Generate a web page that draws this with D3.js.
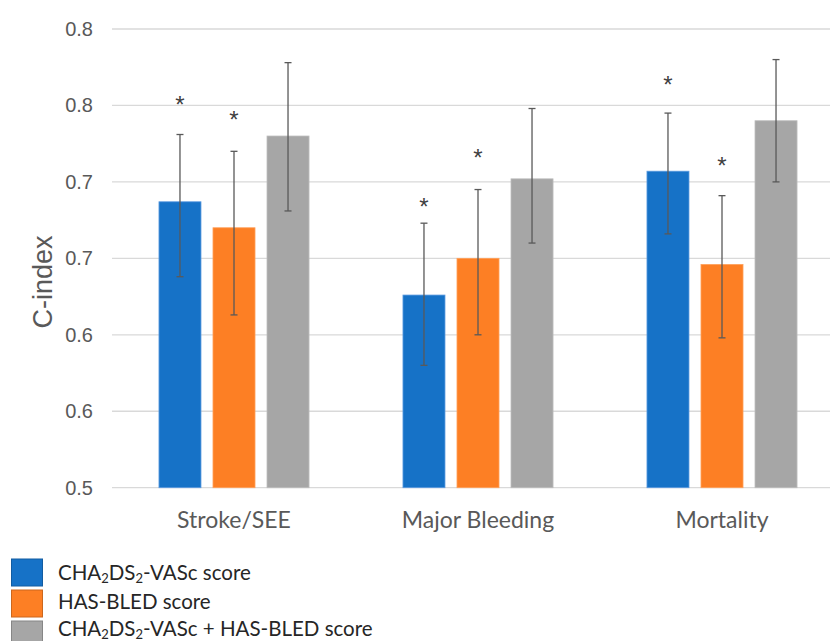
<!DOCTYPE html>
<html>
<head>
<meta charset="utf-8">
<script src="https://cdn.jsdelivr.net/npm/d3@7"></script>
<style>
  html, body { margin: 0; padding: 0; background: #fff; }
  svg { display: block; }
</style>
</head>
<body>
<svg id="chart" width="830" height="641"></svg>
<script>
const CATEGORIES = ['Stroke/SEE', 'Major Bleeding', 'Mortality'];
const SERIES = ['vasc', 'hasbled', 'combined'];

// C-index per category, one array per series
const VASC_VALUES = [0.687, 0.626, 0.707];
const HASBLED_VALUES = [0.670, 0.650, 0.646];
const COMBINED_VALUES = [0.730, 0.702, 0.740];

// error bar bounds
const VASC_LOW = [0.638, 0.580, 0.666];
const VASC_HIGH = [0.731, 0.673, 0.745];
const HASBLED_LOW = [0.613, 0.600, 0.598];
const HASBLED_HIGH = [0.720, 0.695, 0.691];
const COMBINED_LOW = [0.681, 0.660, 0.700];
const COMBINED_HIGH = [0.778, 0.748, 0.780];

// where the asterisks sit (C-index units), null = no asterisk
const VASC_STARS = [0.753, 0.686, 0.766];
const HASBLED_STARS = [0.743, 0.718, 0.713];
const COMBINED_STARS = [null, null, null];

const TICK_VALUES = [0.5, 0.55, 0.6, 0.65, 0.7, 0.75, 0.8];
const TICK_LABELS = ['0.5', '0.6', '0.6', '0.7', '0.7', '0.8', '0.8'];

const COLORS = { vasc: '#1672C7', hasbled: '#FD7F24', combined: '#A6A6A6' };
const STROKES = { vasc: '#5d9be0', hasbled: '#ffa05a', combined: '#bdbdbd' };

const SERIES_DATA = {
  vasc: { values: VASC_VALUES, low: VASC_LOW, high: VASC_HIGH, stars: VASC_STARS },
  hasbled: { values: HASBLED_VALUES, low: HASBLED_LOW, high: HASBLED_HIGH, stars: HASBLED_STARS },
  combined: { values: COMBINED_VALUES, low: COMBINED_LOW, high: COMBINED_HIGH, stars: COMBINED_STARS }
};

function drawChart() {
  const svg = d3.select('#chart');
  const left = 112;
  const right = 844;
  const top = 29;
  const bottom = 487.7;

  const y = d3.scaleLinear().domain([0.5, 0.8]).range([bottom, top]);
  const x0 = d3.scaleBand().domain(CATEGORIES).range([left, right]).paddingInner(0.385).paddingOuter(0.1925);
  const x1 = d3.scaleBand().domain(SERIES).range([0, x0.bandwidth()]).paddingInner(0.2222);

  // gridlines
  svg.append('g')
    .selectAll('line')
    .data(TICK_VALUES)
    .enter()
    .append('line')
    .attr('x1', left)
    .attr('x2', right)
    .attr('y1', d => y(d))
    .attr('y2', d => y(d))
    .attr('stroke', '#d9d9d9')
    .attr('stroke-width', 1.3);

  // y axis labels
  const yAxis = d3.axisLeft(y)
    .tickValues(TICK_VALUES)
    .tickFormat((d, i) => TICK_LABELS[i])
    .tickSize(0)
    .tickPadding(19);

  const yg = svg.append('g').attr('transform', `translate(${left},0)`).call(yAxis);
  yg.select('.domain').remove();
  yg.selectAll('text')
    .attr('fill', '#595959')
    .attr('font-family', 'Liberation Sans, Arial, sans-serif')
    .attr('font-size', 20);

  svg.append('text')
    .attr('transform', 'translate(52,282) rotate(-90)')
    .attr('text-anchor', 'middle')
    .attr('fill', '#595959')
    .attr('font-family', 'Liberation Sans, Arial, sans-serif')
    .attr('font-size', 27)
    .text('C-index');

  const rows = [];
  CATEGORIES.forEach((cat, i) => {
    SERIES.forEach(s => {
      const sd = SERIES_DATA[s];
      rows.push({ cat, s, value: sd.values[i], low: sd.low[i], high: sd.high[i], star: sd.stars[i] });
    });
  });

  const barX = d => x0(d.cat) + x1(d.s);
  const midX = d => barX(d) + x1.bandwidth() / 2;

  svg.append('g')
    .selectAll('rect')
    .data(rows)
    .enter()
    .append('rect')
    .attr('x', d => barX(d))
    .attr('y', d => y(d.value))
    .attr('width', x1.bandwidth())
    .attr('height', d => y(0.5) - y(d.value))
    .attr('fill', d => COLORS[d.s])
    .attr('stroke', d => STROKES[d.s])
    .attr('stroke-width', 0.8);

  // error bars
  const err = svg.append('g').attr('stroke', '#595959').attr('stroke-width', 1.3);
  err.selectAll('line.stem')
    .data(rows)
    .enter()
    .append('line')
    .attr('class', 'stem')
    .attr('x1', midX).attr('x2', midX)
    .attr('y1', d => y(d.high)).attr('y2', d => y(d.low));

  ['high', 'low'].forEach(k => {
    err.selectAll(`line.cap-${k}`)
      .data(rows)
      .enter()
      .append('line')
      .attr('class', `cap-${k}`)
      .attr('x1', d => midX(d) - 3.5).attr('x2', d => midX(d) + 3.5)
      .attr('y1', d => y(d[k])).attr('y2', d => y(d[k]));
  });

  // asterisks
  svg.append('g')
    .selectAll('text')
    .data(rows.filter(d => d.star !== null))
    .enter()
    .append('text')
    .attr('x', midX)
    .attr('y', d => y(d.star) + 12)
    .attr('text-anchor', 'middle')
    .attr('fill', '#404040')
    .attr('font-family', 'Liberation Sans, Arial, sans-serif')
    .attr('font-size', 24)
    .text('*');

  // x labels
  svg.append('g')
    .selectAll('text')
    .data(CATEGORIES)
    .enter()
    .append('text')
    .attr('x', d => x0(d) + x0.bandwidth() / 2)
    .attr('y', 528)
    .attr('text-anchor', 'middle')
    .attr('fill', '#595959')
    .attr('font-family', 'Lato, Open Sans, sans-serif')
    .attr('font-size', 23)
    .text(d => d);

  // legend
  const legend = svg.append('g');
  const legendRows = [
    { s: 'vasc', y: 559 },
    { s: 'hasbled', y: 590 },
    { s: 'combined', y: 621 }
  ];
  legend.selectAll('rect')
    .data(legendRows)
    .enter()
    .append('rect')
    .attr('x', 11.5)
    .attr('y', d => d.y)
    .attr('width', 31)
    .attr('height', 27)
    .attr('fill', d => COLORS[d.s])
    .attr('stroke', d => d3.color(COLORS[d.s]).darker(0.6))
    .attr('stroke-width', 1);

  const font = 'Lato, Open Sans, sans-serif';
  const vascLabel = (t, suffix) => {
    t.append('tspan').text('CHA');
    t.append('tspan').text('2').attr('font-size', 13).attr('dy', 3);
    t.append('tspan').text('DS').attr('dy', -3);
    t.append('tspan').text('2').attr('font-size', 13).attr('dy', 3);
    t.append('tspan').text('-VASc' + suffix).attr('dy', -3);
  };

  const t1 = legend.append('text').attr('x', 58).attr('y', 580)
    .attr('font-family', font).attr('font-size', 20.5).attr('fill', '#262626');
  vascLabel(t1, ' score');

  legend.append('text').attr('x', 58).attr('y', 609)
    .attr('font-family', font).attr('font-size', 20.5).attr('fill', '#262626')
    .text('HAS-BLED score');

  const t3 = legend.append('text').attr('x', 58).attr('y', 636)
    .attr('font-family', font).attr('font-size', 20.5).attr('fill', '#262626');
  vascLabel(t3, ' + HAS-BLED score');
}

window.addEventListener('DOMContentLoaded', drawChart);
</script>
</body>
</html>
